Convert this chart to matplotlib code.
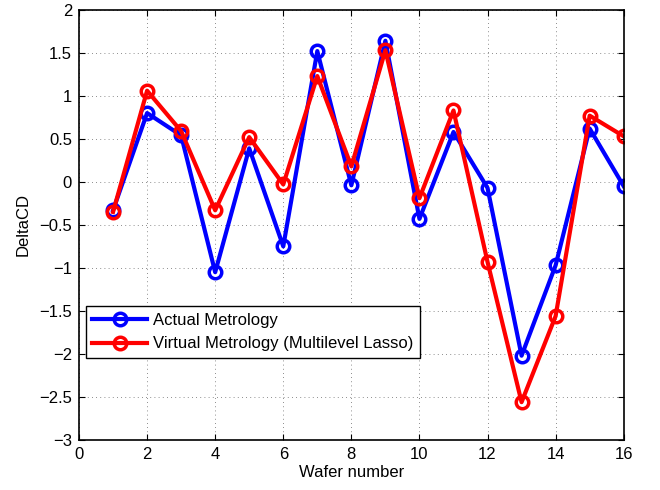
import matplotlib
matplotlib.use('Agg')
import matplotlib.pyplot as plt
import numpy as np

wafers = np.arange(1, 17)
actual = [-0.33, 0.80, 0.54, -1.05, 0.39, -0.75, 1.52, -0.04,
          1.64, -0.43, 0.58, -0.07, -2.02, -0.97, 0.62, -0.05]
virtual = [-0.35, 1.06, 0.59, -0.33, 0.52, -0.03, 1.23, 0.18,
           1.53, -0.19, 0.83, -0.93, -2.56, -1.56, 0.77, 0.53]

plt.rcParams['font.family'] = ['Liberation Sans', 'DejaVu Sans']
fig = plt.figure(figsize=(6.6, 4.9), dpi=100)
ax = fig.add_axes([0.1197, 0.102, 0.8253, 0.878])

ax.plot(wafers, actual, 'b-o', lw=3, ms=9, mfc='none', mew=2.5, label='Actual Metrology')
ax.plot(wafers, virtual, 'r-o', lw=3, ms=9, mfc='none', mew=2.5,
        label='Virtual Metrology (Multilevel Lasso)')

ax.set_xlim(0, 16)
ax.set_ylim(-3, 2)
ax.set_xticks(np.arange(0, 17, 2))
ax.set_yticks(np.arange(-3, 2.01, 0.5))
ax.set_yticklabels(['−3', '−2.5', '−2', '−1.5', '−1', '−0.5', '0', '0.5', '1', '1.5', '2'])
ax.tick_params(direction='in', top=True, right=True, labelsize=12, length=4, pad=5)
ax.grid(True, color='k', linestyle=(0, (1, 4)), linewidth=0.6, alpha=0.6)
for s in ax.spines.values():
    s.set_linewidth(1.2)
ax.set_xlabel('Wafer number', fontsize=12, labelpad=2)
ax.set_ylabel('DeltaCD', fontsize=12, labelpad=6)

leg = ax.legend(loc='lower left', bbox_to_anchor=(0.0, 0.175), fontsize=12,
                fancybox=False, edgecolor='k', framealpha=1, handlelength=3.3,
                borderpad=0.4, labelspacing=0.5, borderaxespad=0.4, handletextpad=0.35)
leg.get_frame().set_linewidth(1.0)

fig.savefig('out.png', dpi=100)
